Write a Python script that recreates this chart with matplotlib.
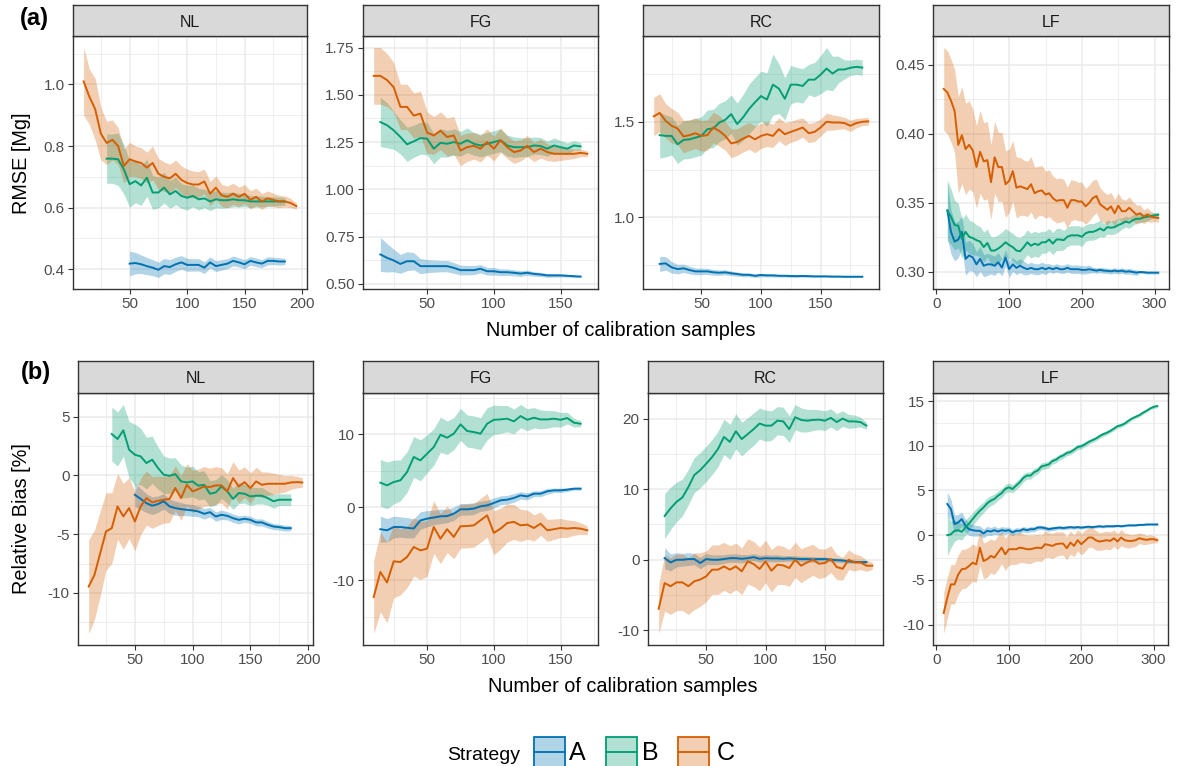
import numpy as np
import matplotlib
matplotlib.use("Agg")
import matplotlib.pyplot as plt
from matplotlib.patches import Rectangle
from matplotlib.lines import Line2D

plt.rcParams['font.family'] = ['Liberation Sans', 'DejaVu Sans']

FACETS = ["NL", "FG", "RC", "LF"]
STRATEGIES = ["A", "B", "C"]
COLORS = ["#0072B2", "#009E73", "#D55E00"]


def xs(start, stop):
    return np.arange(start, stop + 1, 5)

# ---------------- (a) RMSE ----------------
# NL
RMSE_NL_A_X = xs(50, 185)
RMSE_NL_A = [0.418,0.42,0.416,0.41,0.405,0.398,0.41,0.407,0.416,0.422,0.414,0.414,0.414,0.405,0.422,0.41,0.414,0.418,0.427,0.422,0.416,0.427,0.422,0.418,0.427,0.427,0.425,0.425]
RMSE_NL_A_HW = [0.04,0.035,0.03,0.028,0.026,0.025,0.025,0.024,0.023,0.022,0.021,0.02,0.02,0.019,0.018,0.018,0.017,0.016,0.016,0.015,0.015,0.014,0.014,0.013,0.013,0.012,0.012,0.01]
RMSE_NL_B_X = xs(30, 185)
RMSE_NL_B = [0.759,0.759,0.757,0.724,0.676,0.686,0.672,0.697,0.649,0.649,0.665,0.643,0.654,0.638,0.632,0.638,0.627,0.63,0.62,0.627,0.624,0.624,0.627,0.624,0.624,0.62,0.62,0.62,0.62,0.62,0.62,0.62]
RMSE_NL_B_HW = [0.08,0.08,0.085,0.08,0.075,0.07,0.065,0.06,0.055,0.05,0.05,0.045,0.045,0.04,0.04,0.035,0.035,0.03,0.03,0.028,0.026,0.025,0.024,0.022,0.02,0.02,0.018,0.017,0.016,0.015,0.014,0.012]
RMSE_NL_C_X = xs(10, 195)
RMSE_NL_C = [1.01,0.96,0.92,0.84,0.81,0.82,0.80,0.735,0.757,0.75,0.745,0.73,0.745,0.71,0.70,0.695,0.71,0.69,0.68,0.675,0.675,0.685,0.645,0.665,0.64,0.635,0.645,0.635,0.645,0.625,0.635,0.62,0.63,0.625,0.62,0.62,0.615,0.605]
RMSE_NL_C_HW = [0.11,0.09,0.1,0.085,0.07,0.065,0.06,0.055,0.055,0.05,0.05,0.05,0.055,0.05,0.048,0.046,0.045,0.045,0.045,0.044,0.042,0.04,0.04,0.038,0.036,0.035,0.034,0.032,0.03,0.03,0.028,0.026,0.024,0.022,0.02,0.018,0.015,0.01]
# FG
RMSE_FG_A_X = xs(15, 165)
RMSE_FG_A = [0.656,0.638,0.624,0.606,0.62,0.62,0.594,0.594,0.594,0.594,0.594,0.585,0.573,0.573,0.573,0.58,0.567,0.567,0.562,0.562,0.559,0.555,0.559,0.553,0.55,0.545,0.545,0.545,0.543,0.541,0.539]
RMSE_FG_A_HW = [0.09,0.075,0.06,0.05,0.05,0.045,0.04,0.035,0.032,0.03,0.03,0.028,0.026,0.025,0.024,0.022,0.02,0.02,0.018,0.017,0.016,0.015,0.014,0.012,0.011,0.01,0.009,0.008,0.007,0.006,0.005]
RMSE_FG_B_X = xs(15, 165)
RMSE_FG_B = [1.356,1.339,1.312,1.277,1.238,1.254,1.271,1.268,1.215,1.246,1.241,1.25,1.241,1.26,1.241,1.232,1.241,1.25,1.26,1.232,1.223,1.223,1.223,1.232,1.229,1.215,1.232,1.223,1.215,1.232,1.227]
RMSE_FG_B_HW = [0.13,0.12,0.1,0.09,0.09,0.085,0.085,0.085,0.08,0.075,0.07,0.07,0.065,0.065,0.06,0.06,0.06,0.06,0.06,0.055,0.055,0.05,0.05,0.045,0.045,0.04,0.04,0.035,0.03,0.025,0.02]
RMSE_FG_C_X = xs(10, 170)
RMSE_FG_C = [1.60,1.60,1.578,1.54,1.436,1.436,1.39,1.40,1.30,1.285,1.31,1.277,1.285,1.205,1.223,1.23,1.215,1.25,1.215,1.26,1.223,1.197,1.205,1.23,1.197,1.215,1.197,1.188,1.188,1.188,1.188,1.193,1.188]
RMSE_FG_C_HW = [0.15,0.15,0.14,0.13,0.12,0.12,0.12,0.12,0.11,0.1,0.1,0.1,0.1,0.08,0.075,0.07,0.07,0.07,0.065,0.065,0.06,0.06,0.055,0.055,0.05,0.05,0.045,0.04,0.035,0.03,0.025,0.02,0.015]
# RC
RMSE_RC_A_X = xs(15, 185)
RMSE_RC_A = [0.757,0.76,0.739,0.73,0.734,0.725,0.718,0.718,0.718,0.713,0.711,0.713,0.708,0.704,0.7,0.7,0.695,0.699,0.697,0.697,0.695,0.695,0.694,0.693,0.694,0.693,0.692,0.692,0.692,0.691,0.691,0.69,0.69,0.69,0.69]
RMSE_RC_A_HW = [0.04,0.035,0.03,0.025,0.022,0.02,0.018,0.017,0.016,0.015,0.014,0.013,0.012,0.011,0.01,0.01,0.009,0.009,0.008,0.008,0.007,0.007,0.007,0.006,0.006,0.006,0.005,0.005,0.005,0.005,0.004,0.004,0.004,0.004,0.004]
RMSE_RC_B_X = xs(15, 185)
RMSE_RC_B = [1.43,1.426,1.426,1.382,1.405,1.408,1.417,1.426,1.461,1.465,1.496,1.51,1.54,1.488,1.523,1.567,1.602,1.634,1.616,1.694,1.673,1.62,1.694,1.694,1.687,1.72,1.72,1.746,1.778,1.752,1.773,1.773,1.782,1.787,1.783]
RMSE_RC_B_HW = [0.12,0.11,0.1,0.1,0.1,0.1,0.1,0.1,0.1,0.1,0.1,0.1,0.1,0.11,0.12,0.13,0.13,0.13,0.14,0.16,0.13,0.11,0.1,0.09,0.09,0.08,0.09,0.1,0.11,0.09,0.07,0.05,0.04,0.04,0.04]
RMSE_RC_C_X = xs(10, 190)
RMSE_RC_C = [1.528,1.546,1.505,1.479,1.465,1.423,1.43,1.44,1.426,1.43,1.47,1.452,1.426,1.387,1.394,1.412,1.426,1.408,1.426,1.435,1.426,1.461,1.435,1.447,1.458,1.47,1.44,1.447,1.47,1.5,1.496,1.496,1.493,1.479,1.493,1.5,1.502]
RMSE_RC_C_HW = [0.1,0.1,0.09,0.09,0.085,0.085,0.08,0.08,0.08,0.08,0.08,0.08,0.075,0.075,0.07,0.07,0.07,0.07,0.065,0.065,0.06,0.06,0.06,0.055,0.055,0.05,0.05,0.05,0.045,0.045,0.04,0.035,0.03,0.03,0.025,0.02,0.02]
# LF
RMSE_LF_A_X = xs(15, 305)
RMSE_LF_A = [0.3445,0.329,0.322,0.3235,0.329,0.3095,0.312,0.3105,0.3055,0.3095,
             0.3045,0.3055,0.3055,0.3045,0.307,0.3032,0.3105,0.302,0.3055,0.303,
             0.3045,0.303,0.302,0.303,0.302,0.302,0.303,0.302,0.303,0.302,
             0.303,0.302,0.302,0.303,0.302,0.302,0.302,0.3015,0.3015,0.302,
             0.3015,0.301,0.3015,0.301,0.3008,0.3005,0.301,0.3005,0.301,0.3002,
             0.3005,0.300,0.2995,0.300,0.2998,0.2995,0.2995,0.2995,0.2995]
RMSE_LF_A_HW = [0.02,0.016,0.014,0.013,0.012,0.012,0.011,0.01,0.009,0.009,
                0.008,0.008,0.007,0.007,0.007,0.006,0.006,0.006,0.005,0.005,
                0.005,0.005,0.004,0.004,0.004,0.004,0.004,0.004,0.003,0.003,
                0.003,0.003,0.003,0.003,0.003,0.003,0.003,0.003,0.003,0.003,
                0.002,0.002,0.002,0.002,0.002,0.002,0.002,0.002,0.002,0.002,
                0.002,0.002,0.002,0.001,0.001,0.001,0.001,0.001,0.001]
RMSE_LF_B_X = xs(15, 305)
RMSE_LF_B = [0.3445,0.34,0.334,0.3335,0.324,0.329,0.3255,0.3245,0.323,0.322,
             0.318,0.321,0.3155,0.3155,0.317,0.319,0.3215,0.3195,0.318,0.3155,
             0.315,0.318,0.3215,0.319,0.3205,0.3195,0.3215,0.3215,0.3235,0.3205,
             0.3235,0.3235,0.323,0.3255,0.3265,0.3265,0.3265,0.3255,0.328,0.329,
             0.329,0.330,0.3315,0.330,0.3325,0.332,0.3325,0.334,0.335,0.3365,
             0.3357,0.3375,0.3385,0.3385,0.3395,0.340,0.3405,0.341,0.3415]
RMSE_LF_B_HW = [0.022,0.02,0.018,0.016,0.014,0.013,0.012,0.012,0.011,0.011,
                0.011,0.01,0.01,0.01,0.01,0.01,0.01,0.01,0.01,0.01,
                0.01,0.009,0.009,0.009,0.009,0.009,0.008,0.008,0.008,0.008,
                0.008,0.008,0.007,0.007,0.007,0.007,0.007,0.007,0.006,0.006,
                0.006,0.006,0.006,0.005,0.005,0.005,0.005,0.005,0.004,0.004,
                0.004,0.004,0.003,0.003,0.003,0.003,0.002,0.002,0.002]
RMSE_LF_C_X = xs(10, 305)
RMSE_LF_C = [0.4325,0.43,0.424,0.4165,0.392,0.399,0.389,0.392,0.388,0.376,
             0.387,0.380,0.381,0.365,0.383,0.376,0.376,0.3635,0.366,0.373,
             0.361,0.362,0.361,0.360,0.3635,0.357,0.3585,0.359,0.356,0.357,
             0.3535,0.3515,0.352,0.352,0.3465,0.352,0.352,0.351,0.351,0.3475,
             0.35,0.3535,0.355,0.349,0.347,0.345,0.3475,0.3425,0.348,0.344,
             0.344,0.3465,0.344,0.3415,0.3425,0.340,0.3415,0.340,0.3395,0.339]
RMSE_LF_C_HW = [0.03,0.03,0.03,0.03,0.035,0.035,0.033,0.032,0.03,0.03,
                0.03,0.028,0.028,0.027,0.026,0.025,0.025,0.024,0.023,0.022,
                0.022,0.021,0.02,0.02,0.02,0.019,0.018,0.018,0.017,0.017,
                0.016,0.016,0.016,0.015,0.015,0.015,0.014,0.014,0.014,0.013,
                0.013,0.013,0.012,0.012,0.011,0.011,0.01,0.01,0.009,0.009,
                0.008,0.008,0.007,0.007,0.006,0.005,0.005,0.004,0.003,0.003]

# ---------------- (b) Relative bias ----------------
BIAS_NL_A_X = xs(50, 185)
BIAS_NL_A = [-1.65,-2.0,-2.36,-2.58,-2.44,-2.2,-2.64,-2.78,-2.87,-2.93,-2.98,-3.07,-3.27,-3.13,-3.5,-3.35,-3.44,-3.64,-3.78,-3.69,-3.78,-4.0,-4.0,-4.2,-4.35,-4.4,-4.49,-4.49]
BIAS_NL_A_HW = [1.0,0.9,0.8,0.75,0.7,0.65,0.6,0.6,0.55,0.5,0.5,0.45,0.45,0.4,0.4,0.4,0.35,0.35,0.35,0.3,0.3,0.3,0.3,0.28,0.26,0.25,0.25,0.22]
BIAS_NL_B_X = xs(30, 185)
BIAS_NL_B = [3.52,3.1,3.84,2.19,1.76,1.62,1.05,1.34,0.63,0.06,-0.03,0.11,-0.51,-0.6,-0.51,-0.88,-0.8,-1.56,-1.45,-0.94,-1.36,-2.0,-1.5,-1.56,-1.79,-1.73,-1.73,-1.93,-2.2,-2.07,-2.07,-2.07]
BIAS_NL_B_HW = [2.3,2.3,2.2,2.4,2.6,2.4,2.2,2.0,1.8,1.6,1.5,1.4,1.4,1.3,1.3,1.2,1.2,1.1,1.1,1.0,1.0,0.9,0.9,0.8,0.8,0.7,0.7,0.6,0.6,0.5,0.5,0.5]
BIAS_NL_C_X = xs(10, 195)
BIAS_NL_C = [-9.46,-8.47,-6.62,-4.77,-4.49,-2.64,-3.49,-2.78,-3.92,-2.64,-1.93,-2.3,-2.16,-2.07,-2.0,-1.08,-1.93,-0.8,-1.36,-1.16,-0.94,-0.99,-0.85,-0.85,-1.36,-0.23,-0.94,-0.57,-1.08,-0.51,-0.8,-0.71,-0.71,-0.71,-0.71,-0.6,-0.57,-0.6]
BIAS_NL_C_HW = [4.0,3.8,3.6,3.3,3.0,2.8,2.8,2.6,2.5,2.4,2.3,2.2,2.1,2.0,2.0,1.9,1.9,1.8,1.8,1.7,1.7,1.6,1.6,1.5,1.5,1.4,1.4,1.3,1.3,1.2,1.1,1.0,0.9,0.8,0.7,0.6,0.5,0.4]

BIAS_FG_A_X = xs(15, 165)
BIAS_FG_A = [-3.0,-3.15,-2.7,-2.7,-2.8,-2.9,-1.8,-1.55,-1.4,-1.23,-1.2,-0.87,-0.27,-0.27,-0.18,0.14,0.27,0.6,0.96,1.05,1.28,1.64,1.5,1.87,1.87,2.2,2.33,2.33,2.42,2.56,2.56]
BIAS_FG_A_HW = [1.8,1.6,1.5,1.4,1.4,1.3,1.2,1.1,1.0,1.0,0.9,0.9,0.8,0.8,0.8,0.7,0.7,0.7,0.6,0.6,0.6,0.5,0.5,0.4,0.4,0.4,0.3,0.3,0.25,0.2,0.2]
BIAS_FG_B_X = xs(15, 165)
BIAS_FG_B = [3.38,3.01,3.47,3.7,4.84,6.9,6.44,7.35,8.26,9.95,9.54,10.1,11.37,10.46,10.32,10.1,11.46,12.0,12.05,12.15,11.78,12.5,12.0,12.28,12.05,12.05,12.15,12.0,12.24,11.6,11.46]
BIAS_FG_B_HW = [3.2,3.2,3.0,2.8,2.8,2.8,2.8,2.6,2.5,2.4,2.3,2.2,2.2,2.2,2.2,2.2,2.2,2.0,1.9,1.8,1.7,1.6,1.5,1.4,1.3,1.2,1.1,1.0,0.8,0.6,0.4]
BIAS_FG_C_X = xs(10, 170)
BIAS_FG_C = [-12.3,-8.86,-10.3,-7.4,-7.5,-6.8,-5.43,-5.9,-5.66,-2.7,-4.3,-3.0,-4.06,-2.6,-2.56,-2.47,-1.78,-1.1,-3.5,-2.92,-2.15,-2.0,-2.47,-2.37,-2.83,-2.24,-3.15,-3.0,-2.83,-2.92,-2.83,-2.92,-3.15]
BIAS_FG_C_HW = [5.0,5.5,5.5,5.0,4.5,4.2,4.0,4.0,3.8,3.6,3.4,3.2,3.0,3.0,3.0,3.0,3.0,3.0,3.0,2.8,2.6,2.4,2.2,2.0,1.8,1.6,1.5,1.4,1.3,1.2,1.0,0.8,0.6]

BIAS_RC_A_X = xs(15, 185)
BIAS_RC_A = [0.23,-0.38,0.0,0.0,0.1,0.1,-0.47,0.1,0.0,0.0,0.1,0.23,0.23,0.14,0.23,0.37,0.14,0.23,0.2,0.2,0.15,0.2,0.15,0.1,0.1,0.05,0.1,0.1,0.0,-0.05,-0.1,-0.23,-0.3,-0.33,-0.33]
BIAS_RC_A_HW = [1.5,1.2,1.0,0.9,0.9,0.8,0.8,0.8,0.7,0.7,0.6,0.6,0.6,0.6,0.5,0.5,0.5,0.5,0.5,0.5,0.4,0.4,0.4,0.4,0.4,0.4,0.3,0.3,0.3,0.3,0.3,0.25,0.2,0.2,0.2]
BIAS_RC_B_X = xs(15, 185)
BIAS_RC_B = [6.2,7.28,8.2,8.83,10.3,12.0,12.7,13.6,14.55,15.7,17.4,16.7,18.2,17.1,17.8,18.5,19.3,19.0,19.0,19.7,19.6,18.5,20.2,19.8,19.7,19.8,19.85,19.7,20.1,19.5,20.0,19.6,19.6,19.5,19.0]
BIAS_RC_B_HW = [3.2,3.0,2.8,2.6,2.5,2.5,2.5,2.5,2.5,2.5,2.5,2.5,2.5,2.4,2.3,2.3,2.2,2.2,2.1,2.0,2.0,1.9,1.8,1.7,1.6,1.5,1.4,1.4,1.3,1.2,1.1,1.0,0.9,0.7,0.5]
BIAS_RC_C_X = xs(10, 190)
BIAS_RC_C = [-6.95,-3.3,-3.75,-3.2,-3.2,-3.75,-3.05,-2.8,-2.35,-1.4,-1.4,-0.94,-1.4,-0.94,-1.64,-0.23,-0.6,-1.3,-0.23,-1.55,-0.7,-0.8,-1.17,0.0,-0.84,-0.38,0.0,-0.56,-0.47,0.1,-1.03,-1.27,0.0,-0.38,-0.38,-0.84,-0.84]
BIAS_RC_C_HW = [3.5,4.0,4.0,4.0,4.0,4.0,4.0,3.8,3.6,3.5,3.5,3.4,3.4,3.3,3.3,3.2,3.2,3.1,3.0,3.0,2.8,2.7,2.6,2.5,2.4,2.3,2.2,2.1,2.0,1.9,1.8,1.6,1.4,1.2,1.0,0.8,0.5]

BIAS_LF_A_X = xs(15, 305)
BIAS_LF_A = [3.49,2.92,1.24,1.42,1.8,1.05,0.67,0.56,0.49,0.49,
             0.19,0.49,0.41,0.56,0.41,0.56,0.49,0.56,0.3,0.49,
             0.49,0.67,0.56,0.67,0.67,0.86,0.86,0.79,0.67,0.75,
             0.8,0.85,0.8,0.85,0.9,0.85,0.9,0.85,0.9,0.95,
             0.9,0.95,1.0,0.95,1.0,1.0,1.0,1.05,1.0,1.05,
             1.1,1.1,1.1,1.15,1.15,1.2,1.2,1.2,1.2]
BIAS_LF_A_HW = [1.3,1.1,1.0,0.9,0.8,0.75,0.7,0.65,0.6,0.55,
                0.5,0.5,0.45,0.45,0.4,0.4,0.4,0.35,0.35,0.35,
                0.3,0.3,0.3,0.3,0.28,0.26,0.25,0.25,0.24,0.23,
                0.22,0.21,0.2,0.2,0.19,0.18,0.18,0.17,0.17,0.16,
                0.16,0.15,0.15,0.14,0.14,0.13,0.13,0.12,0.12,0.11,
                0.11,0.1,0.1,0.1,0.09,0.09,0.08,0.08,0.08]
BIAS_LF_B_X = xs(15, 305)
BIAS_LF_B = [0.0,0.1,0.5,0.55,0.37,0.86,1.3,1.8,2.3,2.74,
             3.1,3.56,3.86,4.05,4.42,4.7,5.17,5.36,5.17,5.55,
             5.92,6.41,6.67,6.67,7.05,7.24,7.69,7.8,7.91,8.29,
             8.44,8.74,8.92,9.19,9.3,9.56,9.86,9.94,10.16,10.42,
             10.61,10.8,11.06,11.29,11.44,11.66,11.92,12.19,12.3,12.49,
             12.79,13.05,13.24,13.42,13.69,13.91,14.17,14.36,14.44]
BIAS_LF_B_HW = [2.3,1.5,1.2,1.0,0.9,0.85,0.8,0.75,0.7,0.65,
                0.6,0.6,0.55,0.55,0.5,0.5,0.5,0.5,0.45,0.45,
                0.45,0.45,0.4,0.4,0.4,0.4,0.4,0.38,0.36,0.35,
                0.34,0.33,0.32,0.31,0.3,0.3,0.3,0.29,0.28,0.27,
                0.26,0.25,0.25,0.24,0.24,0.23,0.23,0.22,0.22,0.21,
                0.21,0.2,0.2,0.2,0.19,0.19,0.18,0.18,0.18]
BIAS_LF_C_X = xs(10, 305)
BIAS_LF_C = [-8.7,-7.0,-5.5,-5.5,-4.4,-3.8,-3.75,-3.45,-3.07,-3.26,
             -1.39,-2.89,-2.7,-2.32,-2.5,-1.95,-1.39,-2.14,-1.57,-1.57,
             -1.57,-1.39,-1.46,-1.57,-1.57,-1.46,-1.39,-1.46,-1.01,-1.09,
             -1.2,-1.01,-0.94,-0.94,-1.46,-0.82,-1.2,-0.56,-1.01,-0.64,
             -0.26,-0.26,-0.56,-0.71,-0.64,-0.56,-0.64,-0.34,-0.71,-0.26,
             -0.56,-0.64,-0.64,-0.56,-0.34,-0.45,-0.52,-0.45,-0.45,-0.56]
BIAS_LF_C_HW = [2.3,2.3,2.2,2.2,2.2,2.2,2.2,2.1,2.1,2.0,
                2.0,2.0,2.0,1.9,1.9,1.9,1.8,1.8,1.8,1.7,
                1.7,1.7,1.6,1.6,1.6,1.5,1.5,1.5,1.5,1.4,
                1.4,1.4,1.3,1.3,1.3,1.3,1.2,1.2,1.2,1.2,
                1.1,1.1,1.1,1.0,1.0,1.0,1.0,0.9,0.9,0.9,
                0.8,0.8,0.7,0.7,0.6,0.6,0.5,0.5,0.4,0.3]

# ---------------- ticks ----------------
XTICKS = {"NL": [50, 100, 150, 200], "FG": [50, 100, 150], "RC": [50, 100, 150], "LF": [0, 100, 200, 300]}
RMSE_YTICKS = {"NL": [0.4, 0.6, 0.8, 1.0], "FG": [0.5, 0.75, 1.0, 1.25, 1.5, 1.75],
               "RC": [1.0, 1.5], "LF": [0.30, 0.35, 0.40, 0.45]}
RMSE_YLABELS = {"NL": ["0.4", "0.6", "0.8", "1.0"], "FG": ["0.50", "0.75", "1.00", "1.25", "1.50", "1.75"],
                "RC": ["1.0", "1.5"], "LF": ["0.30", "0.35", "0.40", "0.45"]}
BIAS_YTICKS = {"NL": [-10, -5, 0, 5], "FG": [-10, 0, 10], "RC": [-10, 0, 10, 20], "LF": [-10, -5, 0, 5, 10, 15]}
BIAS_YLABELS = {k: [str(v) for v in vals] for k, vals in BIAS_YTICKS.items()}

g = globals()

def series(metric, facet, strat):
    x = np.asarray(g[f"{metric}_{facet}_{strat}_X"], float)
    y = np.asarray(g[f"{metric}_{facet}_{strat}"], float)
    hw = np.asarray(g[f"{metric}_{facet}_{strat}_HW"], float)
    assert len(x) == len(y) == len(hw), (metric, facet, strat, len(x), len(y), len(hw))
    return x, y, hw

# ---------------- layout (pixels) ----------------
W, H = 1177, 766
fig = plt.figure(figsize=(W / 100, H / 100), dpi=100)

ROWS = {
    "RMSE": dict(strip_top=5, top=36, bottom=289,
                 xs=[(73, 307), (363, 598), (643, 879), (933, 1169)],
                 yt=RMSE_YTICKS, yl=RMSE_YLABELS),
    "BIAS": dict(strip_top=361, top=393, bottom=645,
                 xs=[(78, 313), (363, 598), (648, 883), (933, 1168)],
                 yt=BIAS_YTICKS, yl=BIAS_YLABELS),
}

def minors(ticks):
    t = list(ticks)
    if len(t) < 2:
        return []
    st = t[1] - t[0]
    out = [t[0] - st / 2] + [(a + b) / 2 for a, b in zip(t[:-1], t[1:])] + [t[-1] + st / 2]
    return out

BORDER = "#333333"
for metric, cfg in ROWS.items():
    for i, facet in enumerate(FACETS):
        x0, x1 = cfg["xs"][i]
        ax = fig.add_axes([x0 / W, 1 - cfg["bottom"] / H, (x1 - x0) / W, (cfg["bottom"] - cfg["top"]) / H])
        sax = fig.add_axes([x0 / W, 1 - cfg["top"] / H, (x1 - x0) / W, (cfg["top"] - cfg["strip_top"]) / H])
        data = [series(metric, facet, s) for s in STRATEGIES]
        for (x, y, hw), c in zip(data, COLORS):
            ax.fill_between(x, y - hw, y + hw, color=c, alpha=0.3, linewidth=0, zorder=2)
        for (x, y, hw), c in zip(data, COLORS):
            ax.plot(x, y, color=c, lw=1.4, zorder=3, solid_joinstyle='round')
        xmin = min(d[0].min() for d in data); xmax = max(d[0].max() for d in data)
        ymin = min((d[1] - d[2]).min() for d in data); ymax = max((d[1] + d[2]).max() for d in data)
        ex = (xmax - xmin) * 0.05; ey = (ymax - ymin) * 0.05
        ax.set_xticks(XTICKS[facet])
        ax.set_xticklabels([str(v) for v in XTICKS[facet]])
        ax.set_xticks(minors(XTICKS[facet]), minor=True)
        ax.set_yticks(cfg["yt"][facet])
        ax.set_yticklabels(cfg["yl"][facet])
        ax.set_yticks(minors(cfg["yt"][facet]), minor=True)
        ax.set_xlim(xmin - ex, xmax + ex)
        ax.set_ylim(ymin - ey, ymax + ey)
        ax.grid(which="major", color="#EBEBEB", lw=1.1, zorder=0)
        ax.grid(which="minor", color="#EBEBEB", lw=0.55, zorder=0)
        ax.set_axisbelow(True)
        ax.tick_params(which="major", direction="out", length=3.5, width=0.8, color=BORDER,
                       labelsize=11, labelcolor="#4D4D4D", pad=2.5)
        ax.tick_params(which="minor", length=0)
        for sp in ax.spines.values():
            sp.set_color(BORDER); sp.set_linewidth(1.0)
        sax.set_facecolor("#D9D9D9")
        sax.set_xticks([]); sax.set_yticks([])
        for sp in sax.spines.values():
            sp.set_color(BORDER); sp.set_linewidth(1.0)
        sax.text(0.5, 0.45, facet, transform=sax.transAxes, ha="center", va="center",
                 fontsize=11.5, color="#1A1A1A")

def fx(px):
    return px / W

def fy(py):
    return 1 - py / H

# titles
fig.text(fx(621), fy(330), "Number of calibration samples", ha="center", va="center", fontsize=14.3)
fig.text(fx(623), fy(686), "Number of calibration samples", ha="center", va="center", fontsize=14.3)
fig.text(fx(22), fy(163), "RMSE [Mg]", ha="center", va="center", rotation=90, fontsize=14.3)
fig.text(fx(22), fy(519), "Relative Bias [%]", ha="center", va="center", rotation=90, fontsize=14.3)
fig.text(fx(20), fy(18), "(a)", ha="left", va="center", fontsize=17, fontweight="bold")
fig.text(fx(21), fy(372), "(b)", ha="left", va="center", fontsize=17, fontweight="bold")

# legend
fig.text(fx(447), fy(760), "Strategy", ha="left", va="baseline", fontsize=14)
KEY_X = [533.5, 605.5, 677.5]
LABEL_X = [568.5, 642.5, 716.5]
for s, c, kx, lx in zip(STRATEGIES, COLORS, KEY_X, LABEL_X):
    rect = Rectangle((fx(kx), fy(767.5)), 31 / W, 31 / H, transform=fig.transFigure,
                     facecolor=c, alpha=0.3, edgecolor="none", clip_on=False)
    fig.add_artist(rect)
    rect2 = Rectangle((fx(kx), fy(767.5)), 31 / W, 31 / H, transform=fig.transFigure,
                      facecolor="none", edgecolor=c, lw=1.3, clip_on=False)
    fig.add_artist(rect2)
    fig.add_artist(Line2D([fx(kx), fx(kx + 31)], [fy(752), fy(752)], transform=fig.transFigure,
                          color=c, lw=1.35))
    fig.text(fx(lx), fy(760), s, ha="left", va="baseline", fontsize=18)

fig.savefig("out.png", dpi=100)
